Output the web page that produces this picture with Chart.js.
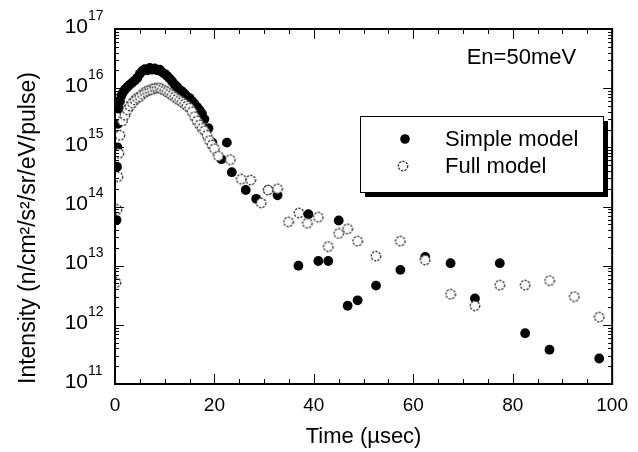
<!DOCTYPE html>
<html>
<head>
<meta charset="utf-8">
<script src="https://cdn.jsdelivr.net/npm/chart.js@4/dist/chart.umd.min.js"></script>
<style>
  html, body { margin: 0; padding: 0; background: #fff; }
  #wrap { width: 638px; height: 452px; position: relative; }
</style>
</head>
<body>
<div id="wrap"><canvas id="chart" width="638" height="452"></canvas></div>
<script>
// === Data ===
const simpleTime = [0.3, 0.4, 0.5, 0.6, 0.8, 1.0, 1.3, 1.6, 2.0, 2.5, 3.0, 3.5, 4.0, 4.5, 5.0, 5.5, 6.0, 6.5, 7.0, 7.5,
  8.0, 8.5, 9.0, 9.5, 10.0, 10.5, 11.0, 11.5, 12.0, 12.5, 13.0, 13.5, 14.0, 14.5, 15.0, 15.5, 16.0, 16.5, 17.0, 17.5,
  18.0, 18.8, 19.6, 21.4, 22.5, 23.5, 26.3, 28.4, 30.8, 32.7, 36.9, 38.9, 40.9, 42.9, 45.0, 46.8, 48.8, 52.5, 57.4,
  62.4, 67.5, 72.4, 77.4, 82.5, 87.4, 97.4];
const simpleIntensity = [5.9e13, 4.7e14, 1.0e15, 2.5e15, 4.5e15, 6.0e15, 7.5e15, 8.5e15, 9.5e15, 1.05e16, 1.15e16,
  1.25e16, 1.35e16, 1.5e16, 1.75e16, 1.95e16, 2.1e16, 2.0e16, 2.2e16, 2.05e16, 2.15e16, 2.0e16, 2.05e16, 1.85e16,
  1.75e16, 1.6e16, 1.45e16, 1.3e16, 1.15e16, 1.05e16, 9.3e15, 8.8e15, 8.0e15, 7.2e15, 6.8e15, 6.0e15, 5.4e15, 4.8e15,
  4.3e15, 3.7e15, 3.0e15, 2.1e15, 1.2e15, 6.3e14, 1.2e15, 3.8e14, 1.9e14, 1.35e14, 1.9e14, 1.55e14, 1.0e13, 7.4e13,
  1.2e13, 1.2e13, 5.8e13, 2.1e12, 2.6e12, 4.6e12, 8.5e12, 1.4e13, 1.1e13, 2.8e12, 1.1e13, 7.2e11, 3.8e11, 2.7e11];

const fullTime = [0.2, 0.4, 0.6, 0.8, 1.0, 1.5, 2.0, 2.5, 3.0, 3.5, 4.0, 4.5, 5.0, 5.5, 6.0, 6.5, 7.0, 7.5, 8.0, 8.5,
  9.0, 9.5, 10.0, 10.5, 11.0, 11.5, 12.0, 12.5, 13.0, 13.5, 14.0, 14.5, 15.0, 15.5, 16.0, 16.5, 17.0, 17.5, 18.0, 18.5,
  19.0, 19.5, 20.0, 20.8, 23.2, 25.4, 27.3, 29.4, 30.8, 32.7, 34.9, 37.0, 38.7, 40.9, 42.9, 45.0, 46.8, 48.8, 52.5,
  57.4, 62.4, 67.5, 72.4, 77.4, 82.5, 87.4, 92.4, 97.4];
const fullIntensity = [5.2e12, 8.9e13, 3.2e14, 7.9e14, 1.6e15, 2.8e15, 3.5e15, 4.3e15, 5.0e15, 5.6e15, 6.3e15, 6.8e15,
  7.2e15, 7.9e15, 8.5e15, 8.9e15, 9.3e15, 9.5e15, 1.0e16, 1.0e16, 1.0e16, 9.5e15, 9.1e15, 8.7e15, 8.1e15, 7.6e15,
  7.1e15, 6.6e15, 6.2e15, 5.8e15, 5.4e15, 5.0e15, 4.6e15, 4.0e15, 3.3e15, 2.8e15, 2.4e15, 2.1e15, 1.9e15, 1.6e15,
  1.3e15, 1.1e15, 9.5e14, 7.1e14, 6.2e14, 2.9e14, 2.8e14, 1.15e14, 1.9e14, 2.0e14, 5.5e13, 7.8e13, 5.2e13, 6.6e13,
  2.1e13, 3.5e13, 4.2e13, 2.6e13, 1.45e13, 2.6e13, 1.25e13, 3.3e12, 2.1e12, 4.7e12, 4.7e12, 5.6e12, 3.0e12, 1.35e12];

const seriesNames = ["Simple model", "Full model"];
const xTicks = [0, 20, 40, 60, 80, 100];
const yExponents = [11, 12, 13, 14, 15, 16, 17];
const annotation = "En=50meV";

const FONT = "'Liberation Sans', Arial, Helvetica, sans-serif";

// === Open (dotted) marker as a small canvas ===
function makeOpenDot() {
  const c = document.createElement("canvas");
  c.width = 12; c.height = 12;
  const g = c.getContext("2d");
  g.beginPath();
  g.arc(6, 6, 4.7, 0, Math.PI * 2);
  g.fillStyle = "#fff";
  g.fill();
  g.setLineDash([2.2, 1.3]);
  g.lineWidth = 1.4;
  g.strokeStyle = "#333";
  g.stroke();
  return c;
}
const openDot = makeOpenDot();

const toPoints = (xs, ys) => xs.map((x, i) => ({ x, y: ys[i] }));

// === Frame, inward ticks, y labels with exponents, legend, annotation ===
const decorations = {
  id: "decorations",
  afterDraw(chart) {
    const { ctx, chartArea: a, scales: { x, y } } = chart;
    ctx.save();
    ctx.strokeStyle = "#000";

    // x ticks (bottom + top), minor every 5
    ctx.lineWidth = 1;
    for (let v = 0; v <= 100; v += 5) {
      const px = Math.round(x.getPixelForValue(v)) + 0.5;
      const len = v % 20 === 0 ? 10 : 5;
      ctx.beginPath();
      ctx.moveTo(px, a.bottom); ctx.lineTo(px, a.bottom - len);
      ctx.moveTo(px, a.top); ctx.lineTo(px, a.top + len);
      ctx.stroke();
    }

    // y ticks (left + right), log minors
    for (let e = 11; e <= 17; e++) {
      for (let m = 1; m <= 9; m++) {
        const v = m * Math.pow(10, e);
        if (v > 1e17) break;
        const py = Math.round(y.getPixelForValue(v)) + 0.5;
        const len = m === 1 ? 9 : 4;
        ctx.beginPath();
        ctx.moveTo(a.left, py); ctx.lineTo(a.left + len, py);
        ctx.moveTo(a.right, py); ctx.lineTo(a.right - len, py);
        ctx.stroke();
      }
    }

    // frame
    ctx.lineWidth = 2;
    ctx.strokeRect(a.left, a.top, a.right - a.left, a.bottom - a.top);

    // y tick labels 10^n
    ctx.fillStyle = "#000";
    ctx.textBaseline = "middle";
    yExponents.forEach((e) => {
      const py = y.getPixelForValue(Math.pow(10, e));
      ctx.font = "21px " + FONT;
      ctx.textAlign = "right";
      ctx.fillText("10", 88, py - 2);
      ctx.font = "14px " + FONT;
      ctx.textAlign = "left";
      ctx.fillText(String(e), 88, py - 13);
    });

    // annotation
    ctx.font = "22px " + FONT;
    ctx.textAlign = "right";
    ctx.fillText(annotation, a.right - 36, a.top + 29);

    // legend box with drop shadow
    const bx = a.left + 245, by = a.top + 87, bw = 243, bh = 76;
    ctx.fillStyle = "#000";
    ctx.fillRect(bx + 5, by + 5, bw, bh);
    ctx.fillStyle = "#fff";
    ctx.fillRect(bx, by, bw, bh);
    ctx.lineWidth = 1;
    ctx.strokeRect(bx + 0.5, by + 0.5, bw, bh);

    ctx.beginPath();
    ctx.arc(bx + 45, by + 23, 4.8, 0, Math.PI * 2);
    ctx.fillStyle = "#000";
    ctx.fill();
    ctx.drawImage(openDot, bx + 43 - 6, by + 50 - 6);

    ctx.font = "22px " + FONT;
    ctx.textAlign = "left";
    ctx.fillText(seriesNames[0], bx + 85, by + 24);
    ctx.fillText(seriesNames[1], bx + 85, by + 51);
    ctx.restore();
  }
};

new Chart(document.getElementById("chart"), {
  type: "scatter",
  data: {
    datasets: [
      {
        label: seriesNames[0],
        data: toPoints(simpleTime, simpleIntensity),
        pointStyle: "circle",
        pointRadius: 4.9,
        backgroundColor: "#000",
        borderColor: "#000",
        borderWidth: 0,
        order: 1
      },
      {
        label: seriesNames[1],
        data: toPoints(fullTime, fullIntensity),
        pointStyle: openDot,
        pointRadius: 5,
        order: 0
      }
    ]
  },
  plugins: [decorations],
  options: {
    responsive: false,
    animation: false,
    events: [],
    layout: { padding: { left: 0, right: 19, top: 29, bottom: 0 } },
    plugins: { legend: { display: false }, tooltip: { enabled: false } },
    scales: {
      x: {
        type: "linear",
        min: 0,
        max: 100,
        afterFit: (s) => { s.height = 68; },
        afterBuildTicks: (s) => { s.ticks = xTicks.map((v) => ({ value: v })); },
        grid: { display: false, drawTicks: false },
        border: { display: false },
        ticks: { color: "#000", padding: 10, font: { family: FONT, size: 19 } },
        title: {
          display: true,
          text: "Time (µsec)",
          color: "#000",
          font: { family: FONT, size: 22 },
          padding: { top: 0, bottom: 2 }
        }
      },
      y: {
        type: "logarithmic",
        min: 1e11,
        max: 1e17,
        afterFit: (s) => { s.width = 115; },
        grid: { display: false, drawTicks: false },
        border: { display: false },
        ticks: { display: false },
        title: {
          display: true,
          align: "start",
          text: "Intensity (n/cm²/s²/sr/eV/pulse)",
          color: "#000",
          font: { family: FONT, size: 23 },
          padding: { top: 15, bottom: 0 }
        }
      }
    }
  }
});
</script>
</body>
</html>
